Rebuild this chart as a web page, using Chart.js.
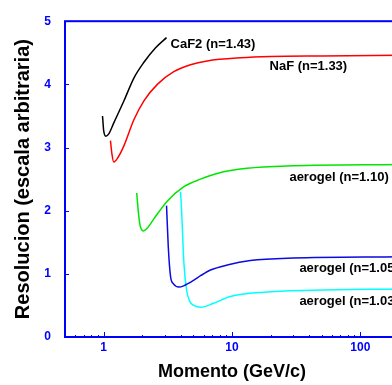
<!DOCTYPE html>
<html>
<head>
<meta charset="utf-8">
<script src="https://cdn.jsdelivr.net/npm/chart.js@4"></script>
<style>
  html, body { margin: 0; padding: 0; overflow: hidden; background: #fff; }
  #grafico { display: block; }
</style>
</head>
<body>
<canvas id="grafico" width="410" height="385"></canvas>
<script>
// momento (GeV/c) y resolucion de cada radiador
const caf2P = [0.98, 0.99, 1.0, 1.04, 1.1, 1.2, 1.44, 1.72, 2.06, 2.54, 3.09];
const caf2R = [3.50, 3.38, 3.27, 3.18, 3.22, 3.39, 3.74, 4.10, 4.35, 4.58, 4.74];

const nafP = [1.13, 1.16, 1.20, 1.30, 1.44, 1.72, 2.06, 2.62, 3.52, 4.75, 6.4, 11.7, 20, 50, 200];
const nafR = [3.11, 2.90, 2.77, 2.85, 3.03, 3.44, 3.74, 4.00, 4.20, 4.31, 4.37, 4.42, 4.44, 4.45, 4.46];

const aero110P = [1.81, 1.86, 1.92, 2.04, 2.2, 2.46, 3.13, 4.22, 5.69, 7.67, 13.1, 30, 200];
const aero110R = [2.28, 2.00, 1.77, 1.68, 1.73, 1.87, 2.15, 2.38, 2.50, 2.59, 2.67, 2.71, 2.73];

const aero105P = [3.09, 3.19, 3.32, 3.5, 3.86, 4.2, 5.05, 5.69, 6.8, 9.18, 13.9, 30, 200];
const aero105R = [2.08, 1.42, 0.96, 0.84, 0.79, 0.81, 0.90, 0.97, 1.06, 1.14, 1.21, 1.25, 1.27];

const aero103P = [3.97, 4.05, 4.22, 4.43, 4.7, 5.05, 5.69, 7.2, 9.7, 17.7, 43, 200];
const aero103R = [2.30, 2.00, 1.17, 0.74, 0.56, 0.50, 0.47, 0.535, 0.64, 0.71, 0.74, 0.76];

const xTicks = [0.5, 0.6, 0.7, 0.8, 0.9, 1, 2, 3, 4, 5, 6, 7, 8, 9, 10,
                20, 30, 40, 50, 60, 70, 80, 90, 100, 200];
const xMayores = [1, 10, 100];
const yTicks = [0, 1, 2, 3, 4, 5];

// etiquetas de texto: [texto, momento, resolucion]
const etiquetas = [
    ['CaF2 (n=1.43)', 3.32, 4.63],
    ['NaF (n=1.33)', 19.6, 4.29],
    ['aerogel (n=1.10)', 28.0, 2.52],
    ['aerogel (n=1.05)', 33.5, 1.08],
    ['aerogel (n=1.03)', 33.5, 0.56],
];

const AZUL = '#0000ff';
const FUENTE = "'Liberation Sans', Arial, sans-serif";

function serie(p, r, color) {
    return {
        data: p.map((v, i) => ({ x: v, y: r[i] })),
        borderColor: color,
        borderWidth: 1.5,
        pointRadius: 0,
        fill: false,
        cubicInterpolationMode: 'monotone',
    };
}

// marco y marcas hacia dentro
const marco = {
    id: 'marco',
    afterDatasetsDraw(chart) {
        const ctx = chart.ctx;
        const a = chart.chartArea;
        const sx = chart.scales.x;
        const sy = chart.scales.y;
        ctx.save();
        ctx.strokeStyle = AZUL;
        ctx.lineWidth = 1;
        xTicks.forEach(v => {
            const px = Math.round(sx.getPixelForValue(v)) + 0.5;
            const largo = xMayores.includes(v) ? 5 : 2;
            ctx.beginPath();
            ctx.moveTo(px, a.bottom);
            ctx.lineTo(px, a.bottom - largo);
            ctx.stroke();
        });
        yTicks.forEach(v => {
            const py = Math.round(sy.getPixelForValue(v)) + 0.5;
            ctx.beginPath();
            ctx.moveTo(a.left, py);
            ctx.lineTo(a.left + 4, py);
            ctx.stroke();
        });
        ctx.lineWidth = 2;
        ctx.strokeRect(a.left, a.top, a.right - a.left, a.bottom - a.top);

        ctx.fillStyle = '#000';
        ctx.font = 'bold 13px ' + FUENTE;
        ctx.textAlign = 'left';
        ctx.textBaseline = 'middle';
        etiquetas.forEach(([t, p, r]) => {
            ctx.fillText(t, sx.getPixelForValue(p), sy.getPixelForValue(r));
        });
        ctx.restore();
    }
};

const ctx = document.getElementById('grafico').getContext('2d');
const grafico = new Chart(ctx, {
    type: 'line',
    data: {
        datasets: [
            serie(caf2P, caf2R, '#000000'),
            serie(nafP, nafR, '#ff0000'),
            serie(aero110P, aero110R, 'rgb(0,230,0)'),
            serie(aero105P, aero105R, 'rgb(10,10,225)'),
            serie(aero103P, aero103R, '#00ffff'),
        ]
    },
    options: {
        responsive: false,
        animation: false,
        devicePixelRatio: 1,
        layout: { padding: { top: 7, right: 11, left: 0, bottom: 0 } },
        plugins: { legend: { display: false }, tooltip: { enabled: false } },
        scales: {
            x: {
                type: 'logarithmic',
                min: 0.5,
                max: 200,
                afterBuildTicks: (scale) => { scale.ticks = xTicks.map(v => ({ value: v })); },
                afterFit: (scale) => { scale.height = 48; },
                grid: { display: false, drawTicks: false },
                border: { display: false },
                ticks: {
                    autoSkip: false,
                    maxRotation: 0,
                    padding: 3,
                    color: AZUL,
                    font: { family: FUENTE, size: 12, weight: 'bold' },
                    callback: (v) => xMayores.includes(v) ? String(v) : '',
                },
                title: {
                    display: true,
                    text: 'Momento (GeV/c)',
                    color: '#000',
                    font: { family: FUENTE, size: 18, weight: 'bold' },
                    padding: { top: 0, bottom: 2 },
                },
            },
            y: {
                min: 0,
                max: 5,
                afterBuildTicks: (scale) => { scale.ticks = yTicks.map(v => ({ value: v })); },
                afterFit: (scale) => { scale.width = 65; },
                grid: { display: false, drawTicks: false },
                border: { display: false },
                ticks: {
                    padding: 14,
                    color: AZUL,
                    font: { family: FUENTE, size: 12, weight: 'bold' },
                },
                title: {
                    display: true,
                    text: 'Resolucion (escala arbitraria)',
                    color: '#000',
                    font: { family: FUENTE, size: 20, weight: 'bold' },
                    padding: { top: 11, bottom: 0 },
                },
            },
        },
    },
    plugins: [marco],
});
</script>
</body>
</html>
